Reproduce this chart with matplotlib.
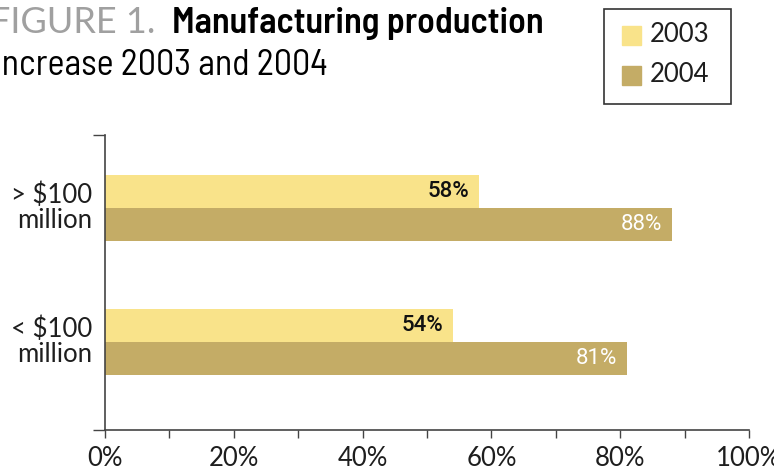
"""Horizontal grouped bars: manufacturing production increase 2003 vs 2004."""

import matplotlib.pyplot as plt
from matplotlib.patches import Rectangle

categories = ["< $100\nmillion", "> $100\nmillion"]
years = ["2003", "2004"]
values_2003 = [54, 58]
values_2004 = [81, 88]
x_ticks = [0, 20, 40, 60, 80, 100]

COLOR_2003 = "#F9E38A"
COLOR_2004 = "#C4AC66"
AXIS_COLOR = "#444444"
TEXT_COLOR = "#1E1E1E"
BODY = ["Lato", "DejaVu Sans"]
COND = ["Barlow Semi Condensed", "DejaVu Sans"]
LABEL = ["Roboto", "DejaVu Sans"]

W, H = 774, 471
fig = plt.figure(figsize=(W / 100, H / 100), dpi=100)
ax = fig.add_axes([105 / W, (H - 430) / H, (749 - 105) / W, (430 - 135) / H])

bar_h = 0.246
pos = list(range(len(categories)))
ax.barh([p + bar_h / 2 for p in pos], values_2003, height=bar_h, color=COLOR_2003)
ax.barh([p - bar_h / 2 for p in pos], values_2004, height=bar_h, color=COLOR_2004)

for p, v in zip(pos, values_2003):
    ax.annotate(f"{v}%", (v, p + bar_h / 2), xytext=(-9, 0), textcoords="offset pixels",
                ha="right", va="center", fontsize=16, fontweight="medium",
                family=LABEL, color="#111111")
for p, v in zip(pos, values_2004):
    ax.annotate(f"{v}%", (v, p - bar_h / 2), xytext=(-10, 0), textcoords="offset pixels",
                ha="right", va="center", fontsize=16, family=LABEL, color="white")

ax.set_xlim(0, 100)
ax.set_ylim(-0.657, 1.545)
ax.set_xticks(x_ticks, [f"{t}%" for t in x_ticks], fontsize=18.5, family=BODY,
              color=TEXT_COLOR)
ax.set_xticks(range(10, 100, 20), minor=True)
ax.tick_params(axis="x", which="both", direction="out", length=5.5, width=1,
               color=AXIS_COLOR, pad=6)
ax.set_yticks([-0.657, 1.545])
ax.set_yticklabels([])
ax.tick_params(axis="y", direction="out", length=9, width=1, color=AXIS_COLOR)
for p, lab in zip(pos, categories):
    ax.annotate(lab, (0, p), xycoords=("axes fraction", "data"), xytext=(-13, 0),
                textcoords="offset pixels", ha="right", va="center", fontsize=18.5,
                family=BODY, color=TEXT_COLOR, multialignment="right", linespacing=1.0)

for s in ["top", "right"]:
    ax.spines[s].set_visible(False)
for s in ["left", "bottom"]:
    ax.spines[s].set_color(AXIS_COLOR)
    ax.spines[s].set_linewidth(1.2)

# title
fig.text(-10 / W, 1 - 33 / H, "FIGURE 1.", fontsize=26, family=BODY,
         color="#A0A0A0", va="baseline")
fig.text(172 / W, 1 - 33 / H, "Manufacturing production", fontsize=26, family=COND,
         fontweight="semibold", color="black", va="baseline")
fig.text(-7 / W, 1 - 75 / H, "Increase 2003 and 2004", fontsize=26, family=COND,
         color="black", va="baseline")

# legend box
fig.patches.append(Rectangle((604 / W, 1 - 104 / H), 127 / W, 95 / H, transform=fig.transFigure,
                             fill=False, edgecolor="#333333", linewidth=1.2))
for i, (yr, col) in enumerate(zip(years, [COLOR_2003, COLOR_2004])):
    yc = 35 + 40 * i
    fig.patches.append(Rectangle((622 / W, 1 - (yc + 9.5) / H), 19 / W, 19 / H,
                                 transform=fig.transFigure, color=col))
    fig.text(650 / W, 1 - yc / H, yr, fontsize=18.5, family=BODY, color=TEXT_COLOR,
             va="center")

fig.savefig("out.png", dpi=100)
